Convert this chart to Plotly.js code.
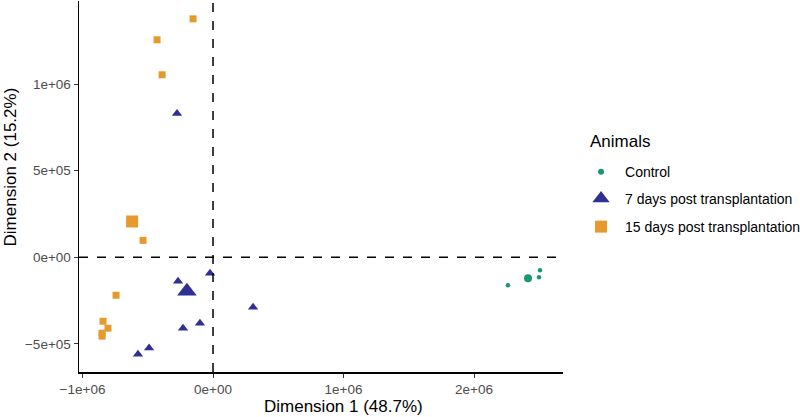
<!DOCTYPE html>
<html><head><meta charset="utf-8">
<script src="https://cdn.plot.ly/plotly-3.0.1.min.js"></script>
<style>html,body{margin:0;padding:0;background:#fff;}#chart{width:800px;height:417px;}</style>
</head><body><div id="chart"></div>
<script>
// Control
const ctrlX = [2260000, 2498000, 2506000];
const ctrlY = [-161000, -115000, -75000];
const ctrlCX = [2414000];
const ctrlCY = [-121000];
// 7 days post transplantation
const d7X = [-276000, -23000, -268000, 307000, -100000, -230000, -490000, -575000];
const d7Y = [830000, -92000, -138000, -288000, -380000, -409000, -524000, -559000];
const d7CX = [-200000];
const d7CY = [-196000];
// 15 days post transplantation
const d15X = [-153000, -429000, -390000, -536000, -743000, -843000, -805000, -850000, -850000];
const d15Y = [1377000, 1256000, 1054000, 98000, -219000, -369000, -409000, -438000, -455000];
const d15CX = [-620000];
const d15CY = [207000];

const seriesNames = ["Control", "7 days post transplantation", "15 days post transplantation"];
const legendTitle = "Animals";
const xTitle = "Dimension 1 (48.7%)";
const yTitle = "Dimension 2 (15.2%)";
const xTickVals = [-1000000, 0, 1000000, 2000000];
const xTickText = ["\u22121e+06", "0e+00", "1e+06", "2e+06"];
const yTickVals = [-500000, 0, 500000, 1000000];
const yTickText = ["\u22125e+05", "0e+00", "5e+05", "1e+06"];

const cGreen = "#1a9a6a", cBlue = "#2f3192", cOrange = "#e69a2e";

const traces = [
  {x: ctrlX, y: ctrlY, mode: "markers", type: "scatter", showlegend: false,
   marker: {symbol: "circle", size: 4.5, color: cGreen}},
  {x: ctrlCX, y: ctrlCY, mode: "markers", type: "scatter", showlegend: false,
   marker: {symbol: "circle", size: 8, color: cGreen}},
  {x: d7X, y: d7Y, mode: "markers", type: "scatter", showlegend: false,
   marker: {symbol: "triangle-up", size: 9, color: cBlue}},
  {x: d7CX, y: d7CY, mode: "markers", type: "scatter", showlegend: false,
   marker: {symbol: "triangle-up", size: 17, color: cBlue}},
  {x: d15X, y: d15Y, mode: "markers", type: "scatter", showlegend: false,
   marker: {symbol: "square", size: 7, color: cOrange}},
  {x: d15CX, y: d15CY, mode: "markers", type: "scatter", showlegend: false,
   marker: {symbol: "square", size: 12, color: cOrange}},
  // legend entries
  {x: [null], y: [null], mode: "markers", type: "scatter", name: seriesNames[0], legend: "legend",
   marker: {symbol: "circle", size: 6, color: cGreen}},
  {x: [null], y: [null], mode: "markers", type: "scatter", name: seriesNames[1], legend: "legend2",
   marker: {symbol: "triangle-up", size: 15, color: cBlue}},
  {x: [null], y: [null], mode: "markers", type: "scatter", name: seriesNames[2], legend: "legend3",
   marker: {symbol: "square", size: 12, color: cOrange}}
];

function leg(y) {
  return {x: 1.029, y: y, xanchor: "left", yanchor: "middle", itemwidth: 38,
          font: {size: 14, color: "#000"}, bgcolor: "rgba(0,0,0,0)"};
}

const layout = {
  width: 800, height: 417,
  margin: {l: 79, r: 237, t: 1, b: 45, autoexpand: false},
  paper_bgcolor: "#fff", plot_bgcolor: "#fff",
  font: {family: "Liberation Sans, Arial, sans-serif", color: "#000"},
  showlegend: true,
  xaxis: {
    range: [-1027000, 2682000], showgrid: false, zeroline: false,
    showline: true, linecolor: "#000", linewidth: 1.5,
    ticks: "outside", ticklen: 4, tickcolor: "#333", tickwidth: 1,
    tickvals: xTickVals, ticktext: xTickText, automargin: false,
    tickfont: {size: 13.5, color: "#4d4d4d"}
  },
  yaxis: {
    range: [-662000, 1480000], showgrid: false, zeroline: false,
    showline: true, linecolor: "#000", linewidth: 1.5,
    ticks: "outside", ticklen: 4, tickcolor: "#333", tickwidth: 1,
    tickvals: yTickVals, ticktext: yTickText, automargin: false,
    tickfont: {size: 13.5, color: "#4d4d4d"}
  },
  annotations: [
    {text: xTitle, xref: "paper", yref: "paper", x: 0.5475, y: -0.0943,
     xanchor: "center", yanchor: "middle", showarrow: false, font: {size: 17, color: "#000"}},
    {text: yTitle, xref: "paper", yref: "paper", x: -0.1426, y: 0.554, textangle: -90,
     xanchor: "center", yanchor: "middle", showarrow: false, font: {size: 17, color: "#000"}},
    {text: legendTitle, xref: "paper", yref: "paper", x: 1.0517, y: 0.62,
     xanchor: "left", yanchor: "middle", showarrow: false, font: {size: 17, color: "#000"}}
  ],
  shapes: [
    {type: "line", xref: "x", yref: "paper", x0: 0, x1: 0, y0: 0, y1: 1,
     line: {color: "#000", width: 1.5, dash: "dash"}},
    {type: "line", xref: "paper", yref: "y", x0: 0, x1: 1, y0: 0, y1: 0,
     line: {color: "#000", width: 1.5, dash: "dash"}}
  ],
  legend: leg(0.539),
  legend2: leg(0.4663),
  legend3: leg(0.3908)
};

Plotly.newPlot("chart", traces, layout, {displayModeBar: false, staticPlot: true});
</script></body></html>
